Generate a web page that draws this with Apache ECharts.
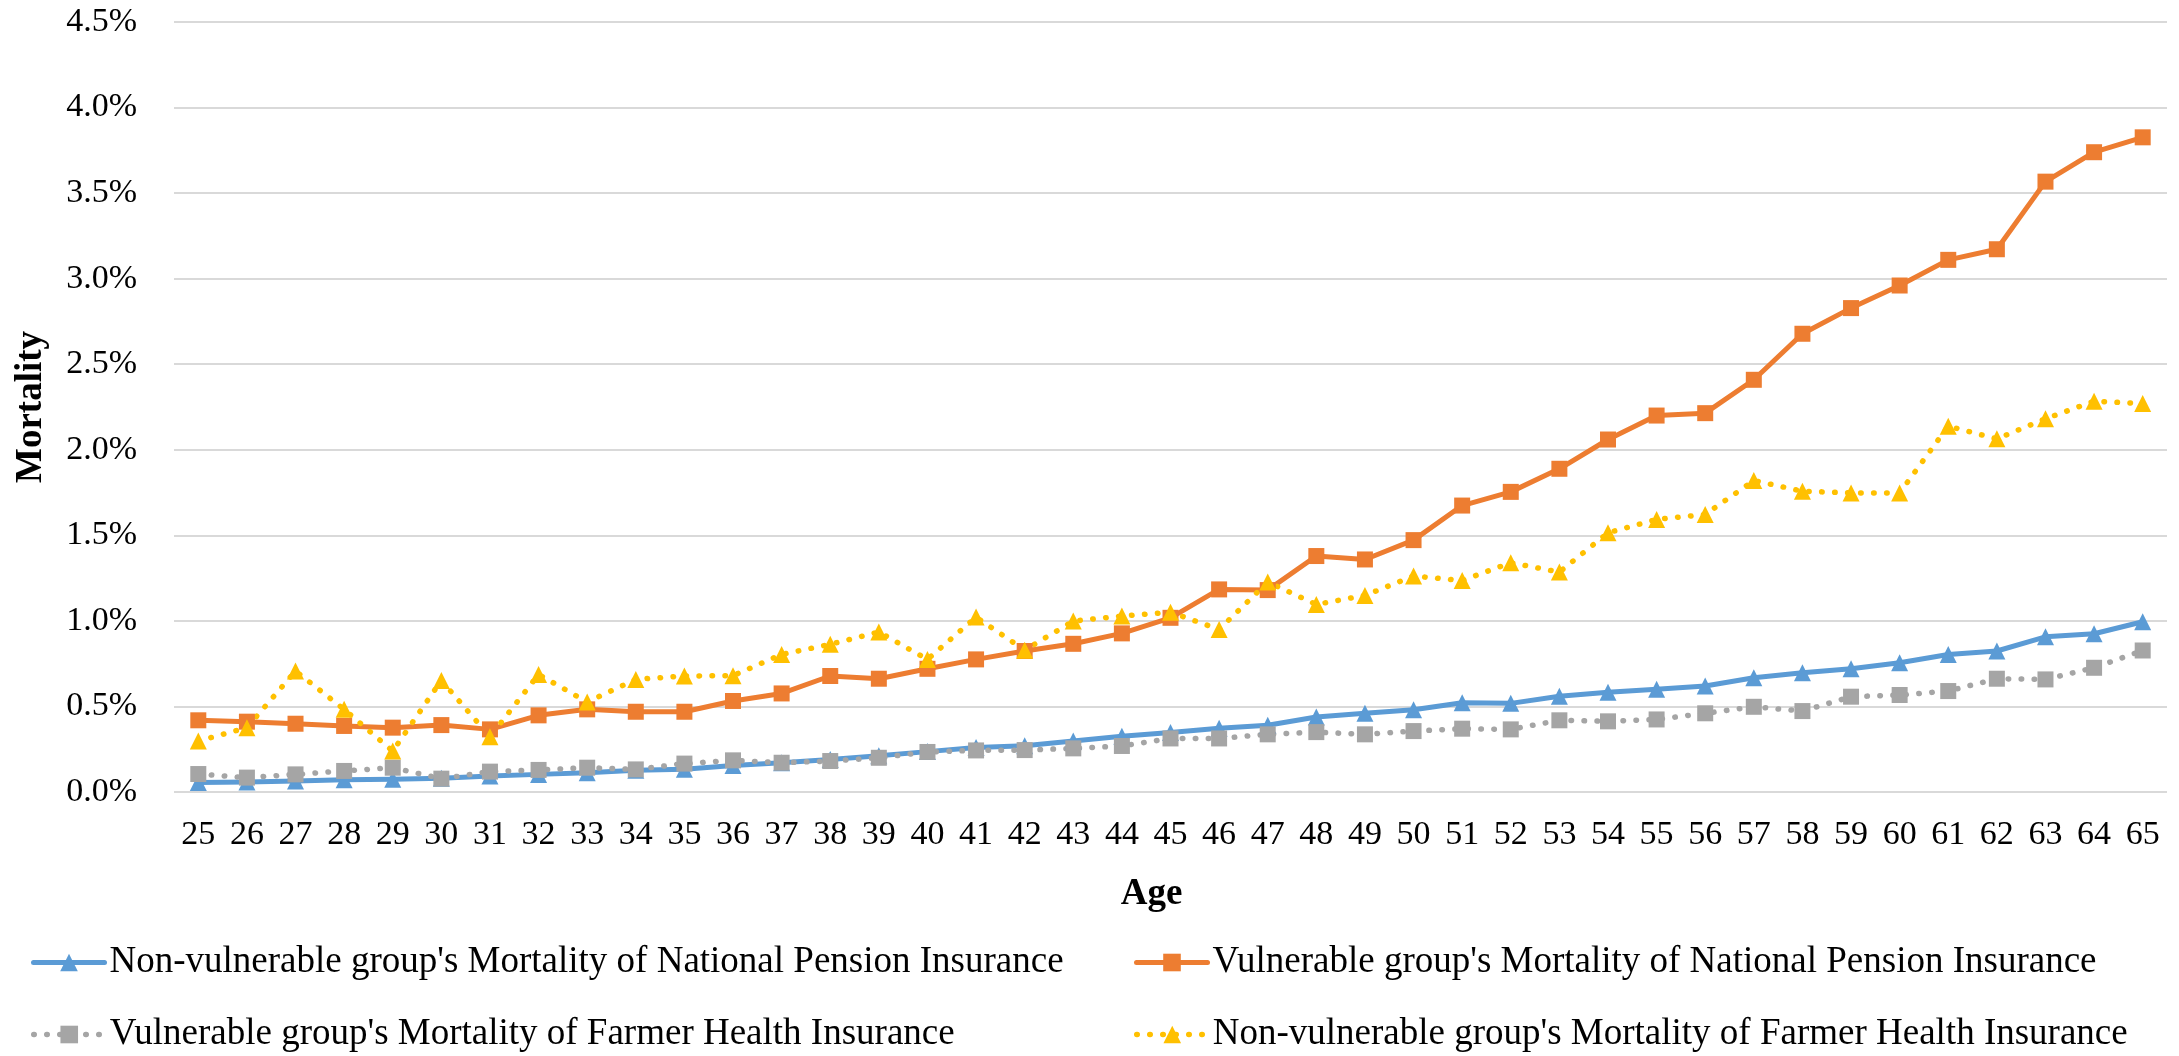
<!DOCTYPE html>
<html>
<head>
<meta charset="utf-8">
<title>Mortality by Age</title>
<script src="https://cdn.jsdelivr.net/npm/echarts@6/dist/echarts.min.js"></script>
<style>
  html, body { margin: 0; padding: 0; background: #ffffff; }
  #chart { width: 2179px; height: 1056px; }
</style>
</head>
<body>
<div id="chart"></div>
<script>
// Ages on the horizontal axis
const ages = [25, 26, 27, 28, 29, 30, 31, 32, 33, 34, 35, 36, 37, 38, 39, 40, 41, 42, 43, 44, 45,
              46, 47, 48, 49, 50, 51, 52, 53, 54, 55, 56, 57, 58, 59, 60, 61, 62, 63, 64, 65];

// Mortality values in percent
const nonVulnerableNPI = [0.055, 0.058, 0.064, 0.072, 0.074, 0.080, 0.093, 0.103, 0.113, 0.127, 0.133,
  0.155, 0.171, 0.190, 0.212, 0.236, 0.260, 0.270, 0.298, 0.326, 0.348, 0.373, 0.390, 0.438, 0.460,
  0.481, 0.522, 0.518, 0.560, 0.583, 0.600, 0.619, 0.668, 0.697, 0.720, 0.755, 0.804, 0.824, 0.907,
  0.925, 0.995];

const vulnerableNPI = [0.419, 0.411, 0.399, 0.386, 0.376, 0.391, 0.366, 0.448, 0.483, 0.469, 0.469,
  0.532, 0.576, 0.678, 0.662, 0.720, 0.775, 0.824, 0.866, 0.927, 1.018, 1.184, 1.180, 1.379, 1.359,
  1.472, 1.674, 1.754, 1.889, 2.060, 2.200, 2.214, 2.409, 2.678, 2.828, 2.960, 3.110, 3.172, 3.567,
  3.739, 3.826];

const vulnerableFHI = [0.105, 0.084, 0.103, 0.123, 0.142, 0.078, 0.119, 0.129, 0.142, 0.132, 0.166,
  0.185, 0.171, 0.181, 0.200, 0.234, 0.243, 0.245, 0.255, 0.269, 0.313, 0.313, 0.337, 0.350, 0.337,
  0.356, 0.370, 0.366, 0.419, 0.413, 0.424, 0.460, 0.498, 0.473, 0.557, 0.567, 0.590, 0.662, 0.658,
  0.726, 0.827];

const nonVulnerableFHI = [0.298, 0.376, 0.707, 0.483, 0.239, 0.652, 0.323, 0.687, 0.526, 0.658, 0.678,
  0.680, 0.804, 0.863, 0.935, 0.775, 1.022, 0.829, 0.999, 1.028, 1.051, 0.950, 1.227, 1.096, 1.149,
  1.262, 1.236, 1.340, 1.285, 1.515, 1.593, 1.622, 1.820, 1.758, 1.748, 1.748, 2.138, 2.064, 2.181,
  2.284, 2.270];

const seriesNames = [
  "Non-vulnerable group's Mortality of National Pension Insurance",
  "Vulnerable group's Mortality of National Pension Insurance",
  "Vulnerable group's Mortality of Farmer Health Insurance",
  "Non-vulnerable group's Mortality of Farmer Health Insurance"
];

const FONT = '"Liberation Serif", "Times New Roman", serif';
const DOTS = [0.5, 12.5];

const chart = echarts.init(document.getElementById('chart'), null, { renderer: 'canvas' });

function legendAt(name, left, top) {
  return {
    data: [name],
    left: left,
    top: top,
    padding: 0,
    itemWidth: 71,
    itemHeight: 22,
    selectedMode: false,
    textStyle: { fontFamily: FONT, fontSize: 37, color: '#000000' },
    lineStyle: { width: 'inherit' }
  };
}

function lineSeries(name, data, color, symbol, size, dotted) {
  return {
    name: name,
    type: 'line',
    data: data,
    symbol: symbol,
    symbolSize: size,
    showAllSymbol: true,
    itemStyle: { color: color, borderColor: color, borderWidth: 0 },
    lineStyle: { color: color, width: dotted ? 5.5 : 5, type: dotted ? DOTS : 'solid', cap: 'round', join: 'round' },
    emphasis: { disabled: true }
  };
}

chart.setOption({
  animation: false,
  backgroundColor: '#ffffff',
  grid: { left: 174, right: 12, top: 22, bottom: 264, containLabel: false },
  legend: [
    legendAt(seriesNames[0], 31, 944),
    legendAt(seriesNames[1], 1134, 944),
    legendAt(seriesNames[2], 31, 1016),
    legendAt(seriesNames[3], 1134, 1016)
  ],
  xAxis: {
    type: 'category',
    data: ages,
    boundaryGap: true,
    axisLine: { show: false },
    axisTick: { show: false },
    axisLabel: { fontFamily: FONT, fontSize: 34, color: '#000000', margin: 26, interval: 0 },
    name: 'Age',
    nameLocation: 'middle',
    nameGap: 84,
    nameTextStyle: { fontFamily: FONT, fontSize: 37, fontWeight: 'bold', color: '#000000', padding: [0, 38, 0, 0] }
  },
  yAxis: {
    type: 'value',
    min: 0,
    max: 4.5,
    interval: 0.5,
    axisLine: { show: false },
    axisTick: { show: false },
    axisLabel: {
      fontFamily: FONT, fontSize: 34, color: '#000000', margin: 37,
      formatter: v => v.toFixed(1) + '%'
    },
    splitLine: { show: true, lineStyle: { color: '#D9D9D9', width: 2 } },
    name: 'Mortality',
    nameLocation: 'middle',
    nameRotate: 90,
    nameGap: 124,
    nameTextStyle: { fontFamily: FONT, fontSize: 37, fontWeight: 'bold', color: '#000000' }
  },
  series: [
    lineSeries(seriesNames[0], nonVulnerableNPI, '#5B9BD5', 'triangle', 17, false),
    lineSeries(seriesNames[1], vulnerableNPI, '#ED7D31', 'rect', 16, false),
    lineSeries(seriesNames[2], vulnerableFHI, '#A5A5A5', 'rect', 16, true),
    lineSeries(seriesNames[3], nonVulnerableFHI, '#FFC000', 'triangle', 17, true)
  ]
});
</script>
</body>
</html>
